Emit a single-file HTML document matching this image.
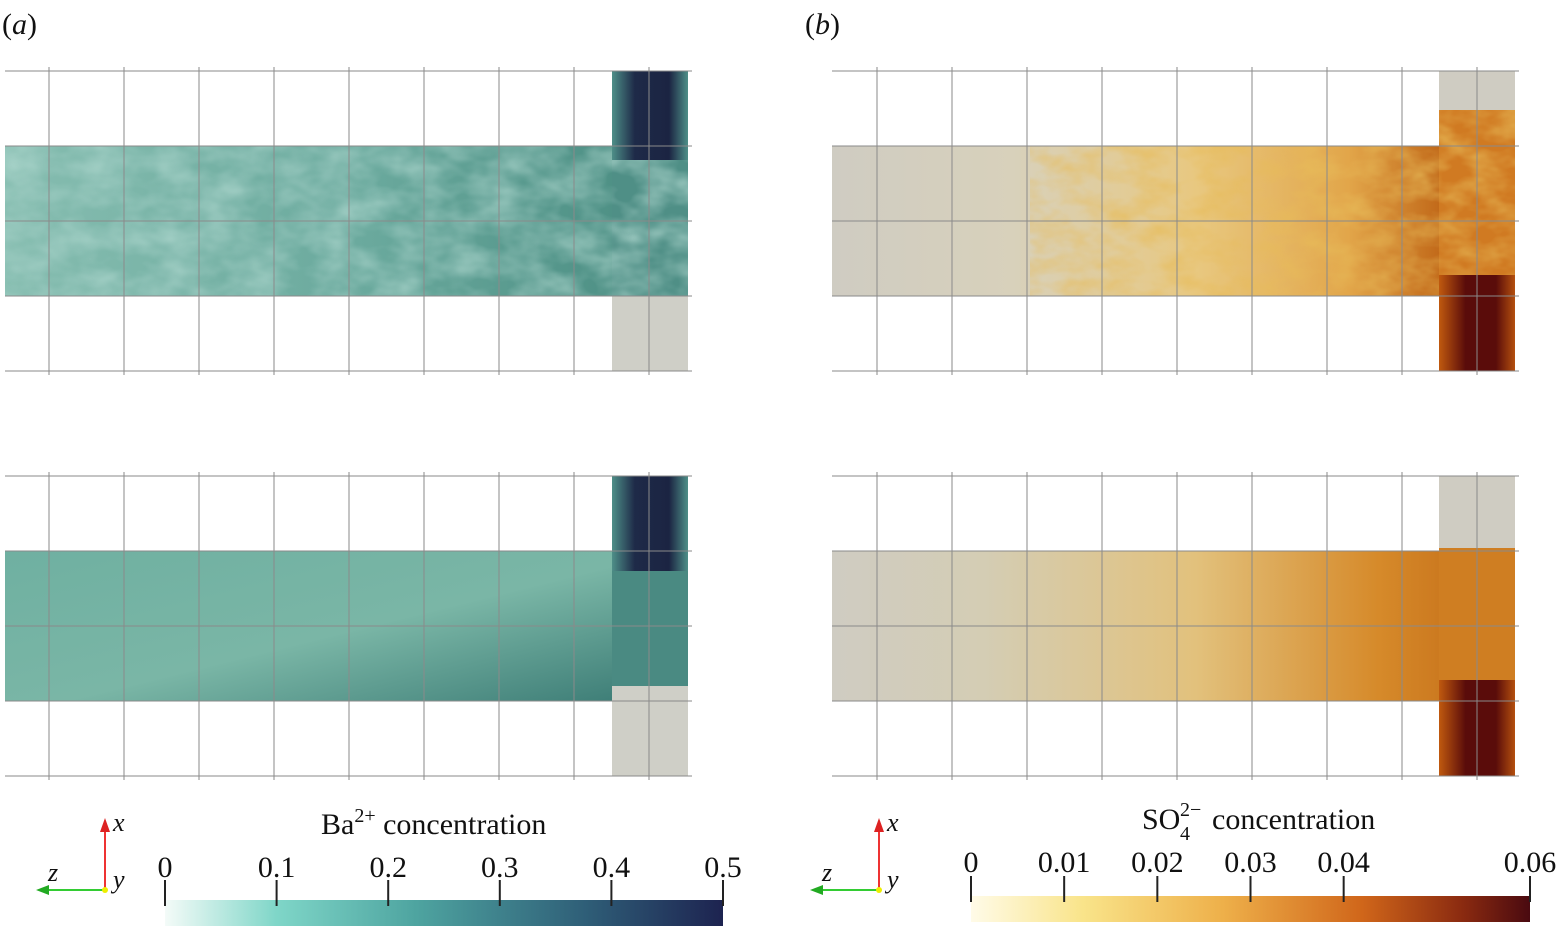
<!DOCTYPE html>
<html><head><meta charset="utf-8">
<style>
body{margin:0;background:#fff;width:1559px;height:937px;overflow:hidden}
svg{display:block}
text{font-family:"Liberation Serif",serif;fill:#111}
</style></head>
<body>
<svg id="fig" width="1559" height="937" viewBox="0 0 1559 937" xmlns="http://www.w3.org/2000/svg">
<defs>
<filter id="turbA" x="0" y="0" width="1" height="1">
 <feTurbulence type="fractalNoise" baseFrequency="0.025 0.04" numOctaves="3" seed="3"/>
 <feColorMatrix type="matrix" values="0 0 0 0 0.45  0 0 0 0 0.7  0 0 0 0 0.64  1.2 0 0 0 -0.35"/>
 <feComposite in2="SourceGraphic" operator="in"/>
</filter>
<filter id="turbB" x="0" y="0" width="1" height="1">
 <feTurbulence type="fractalNoise" baseFrequency="0.03 0.05" numOctaves="3" seed="7"/>
 <feColorMatrix type="matrix" values="0 0 0 0 0.8  0 0 0 0 0.5  0 0 0 0 0.1  1.3 0 0 0 -0.45"/>
 <feComposite in2="SourceGraphic" operator="in"/>
</filter>
<linearGradient id="aTopCh" x1="0" x2="1"><stop offset="0" stop-color="#86bdb0"/><stop offset="0.6" stop-color="#6aa99d"/><stop offset="1" stop-color="#4f9186"/></linearGradient>
<linearGradient id="aBotCh" x1="0" y1="0" x2="1" y2="1"><stop offset="0" stop-color="#6fb0a1"/><stop offset="0.55" stop-color="#7ab6a6"/><stop offset="1" stop-color="#3f7f78"/></linearGradient>
<linearGradient id="pipeDark" x1="0" x2="1"><stop offset="0" stop-color="#4e8f88"/><stop offset="0.3" stop-color="#1e2a48"/><stop offset="0.75" stop-color="#1b2442"/><stop offset="1" stop-color="#4e8f88"/></linearGradient>
<linearGradient id="pipeRed" x1="0" x2="1"><stop offset="0" stop-color="#c0590e"/><stop offset="0.35" stop-color="#5a0c0a"/><stop offset="0.75" stop-color="#5a0c0a"/><stop offset="1" stop-color="#b4500e"/></linearGradient>
<linearGradient id="bTopCh" x1="0" x2="1"><stop offset="0" stop-color="#cfccc2"/><stop offset="0.3" stop-color="#d8d1bb"/><stop offset="0.6" stop-color="#e8c880"/><stop offset="0.85" stop-color="#e2a64a"/><stop offset="1" stop-color="#c26a1a"/></linearGradient>
<linearGradient id="bBotCh" x1="0" x2="1"><stop offset="0" stop-color="#cfccc2"/><stop offset="0.25" stop-color="#d4cdb4"/><stop offset="0.6" stop-color="#e2c17c"/><stop offset="0.9" stop-color="#d68a2a"/><stop offset="1" stop-color="#cc7a20"/></linearGradient>
<linearGradient id="cbA" x1="0" x2="1"><stop offset="0" stop-color="#f4fbf8"/><stop offset="0.2" stop-color="#7fd6c8"/><stop offset="0.45" stop-color="#4ea4a0"/><stop offset="0.75" stop-color="#2f5f78"/><stop offset="1" stop-color="#1d2350"/></linearGradient>
<linearGradient id="cbB" x1="0" x2="1"><stop offset="0" stop-color="#fffbe8"/><stop offset="0.2" stop-color="#f9e48a"/><stop offset="0.45" stop-color="#eeb04a"/><stop offset="0.7" stop-color="#d0661a"/><stop offset="0.88" stop-color="#8a2a10"/><stop offset="1" stop-color="#4a0a10"/></linearGradient>
</defs>

<text x="2" y="34" font-size="30">(<tspan font-style="italic">a</tspan>)</text>
<text x="805" y="34" font-size="30">(<tspan font-style="italic">b</tspan>)</text>

<g>
 <rect x="5" y="146" width="607" height="150" fill="url(#aTopCh)"/>
 <rect x="5" y="146" width="607" height="150" fill="#000" filter="url(#turbA)" opacity="0.9"/>
 <rect x="612" y="71" width="76" height="300" fill="url(#pipeDark)"/>
 <rect x="612" y="160" width="76" height="136" fill="#4f8f86"/>
 <rect x="612" y="160" width="76" height="136" fill="#000" filter="url(#turbA)"/>
 <rect x="612" y="296" width="76" height="75" fill="#cfcfc7"/>
</g>
<g>
 <rect x="5" y="551" width="607" height="150" fill="url(#aBotCh)"/>
 <rect x="612" y="476" width="76" height="300" fill="#4a8a82"/>
 <rect x="612" y="476" width="76" height="95" fill="url(#pipeDark)"/>
 <rect x="612" y="686" width="76" height="90" fill="#cfcfc7"/>
</g>
<g>
 <rect x="832" y="146" width="607" height="150" fill="url(#bTopCh)"/>
 <rect x="1030" y="146" width="409" height="150" fill="#000" filter="url(#turbB)"/>
 <rect x="1439" y="71" width="76" height="300" fill="#cfccc2"/>
 <rect x="1439" y="110" width="76" height="186" fill="#d07a22"/>
 <rect x="1439" y="110" width="76" height="186" fill="#000" filter="url(#turbB)"/>
 <rect x="1439" y="275" width="76" height="96" fill="url(#pipeRed)"/>
</g>
<g>
 <rect x="832" y="551" width="607" height="150" fill="url(#bBotCh)"/>
 <rect x="1439" y="476" width="76" height="300" fill="#cf7e22"/>
 <rect x="1439" y="476" width="76" height="72" fill="#cfccc2"/>
 <rect x="1439" y="680" width="76" height="96" fill="url(#pipeRed)"/>
</g>

<g id="grids"></g>

<g>
 <line x1="105" y1="890" x2="105" y2="826" stroke="#e33" stroke-width="2"/><polygon points="100,832 110,832 105,818" fill="#d22"/>
 <line x1="105" y1="890" x2="45" y2="890" stroke="#3c3" stroke-width="2"/><polygon points="49,885 49,895 36,890" fill="#2a2"/>
 <circle cx="105" cy="890" r="3" fill="#ee0"/>
 <text x="113" y="831" font-size="26" font-style="italic">x</text>
 <text x="48" y="881" font-size="26" font-style="italic">z</text>
 <text x="113" y="888" font-size="26" font-style="italic">y</text>
</g>
<g>
 <line x1="879" y1="890" x2="879" y2="826" stroke="#e33" stroke-width="2"/><polygon points="874,832 884,832 879,818" fill="#d22"/>
 <line x1="879" y1="890" x2="819" y2="890" stroke="#3c3" stroke-width="2"/><polygon points="823,885 823,895 810,890" fill="#2a2"/>
 <circle cx="879" cy="890" r="3" fill="#ee0"/>
 <text x="887" y="831" font-size="26" font-style="italic">x</text>
 <text x="822" y="881" font-size="26" font-style="italic">z</text>
 <text x="887" y="888" font-size="26" font-style="italic">y</text>
</g>

<text x="321" y="834" font-size="30">Ba<tspan dy="-12" font-size="20">2+</tspan><tspan dy="12"> concentration</tspan></text>
<g>
 <text x="1142" y="829" font-size="30">SO</text>
 <text x="1180" y="816" font-size="20">2−</text>
 <text x="1180" y="840" font-size="20">4</text>
 <text x="1212" y="829" font-size="30">concentration</text>
</g>
<rect x="165" y="900" width="558" height="26" fill="url(#cbA)"/>
<rect x="971" y="896" width="559" height="26" fill="url(#cbB)"/>
<g id="ticks"></g>

<script>
const gridXA=[49,124,199,274,349,424,499,574,649];
const gridXB=[877,952,1027,1102,1177,1252,1327,1402,1477];
const gridY=[71,146,221,296,371,476,551,626,701,776];
const ticksA=[0,0.1,0.2,0.3,0.4,0.5];
const labelsA=["0","0.1","0.2","0.3","0.4","0.5"];
const ticksB=[0,0.01,0.02,0.03,0.04,0.06];
const labelsB=["0","0.01","0.02","0.03","0.04","0.06"];
const NS="http://www.w3.org/2000/svg";
const g=document.getElementById('grids');
function ln(p,x1,y1,x2,y2,c,w){const l=document.createElementNS(NS,'line');l.setAttribute('x1',x1);l.setAttribute('y1',y1);l.setAttribute('x2',x2);l.setAttribute('y2',y2);l.setAttribute('stroke',c);l.setAttribute('stroke-width',w);p.appendChild(l);return l;}
[[gridXA,5,692],[gridXB,832,1519]].forEach(([xs,x0,x1])=>{
 [[71,371],[476,776]].forEach(([y0,y1])=>{
  xs.forEach(x=>{const l=ln(g,x,y0-4,x,y1+4,'#8a8a8a',1);
   
   });
  gridY.filter(y=>y>=y0&&y<=y1).forEach(y=>{const l=ln(g,x0,y,x1,y,'#8a8a8a',1);
   
   });
 });
});
const tg=document.getElementById('ticks');
function bar(ticks,labels,x0,x1,vmax,yTop,yLab){
 ticks.forEach((v,i)=>{const x=x0+(x1-x0)*v/vmax;
  const l=ln(tg,x,yTop-20,x,yTop+6,'#222',2);
  
  
  const t=document.createElementNS(NS,'text');t.setAttribute('x',x);t.setAttribute('y',yLab);
  t.setAttribute('font-size','30');t.setAttribute('text-anchor','middle');t.textContent=labels[i];
  
  
  tg.appendChild(t);});
}
bar(ticksA,labelsA,165,723,0.5,900,877);
bar(ticksB,labelsB,971,1530,0.06,896,872);
</script>
</svg>
</body></html>
